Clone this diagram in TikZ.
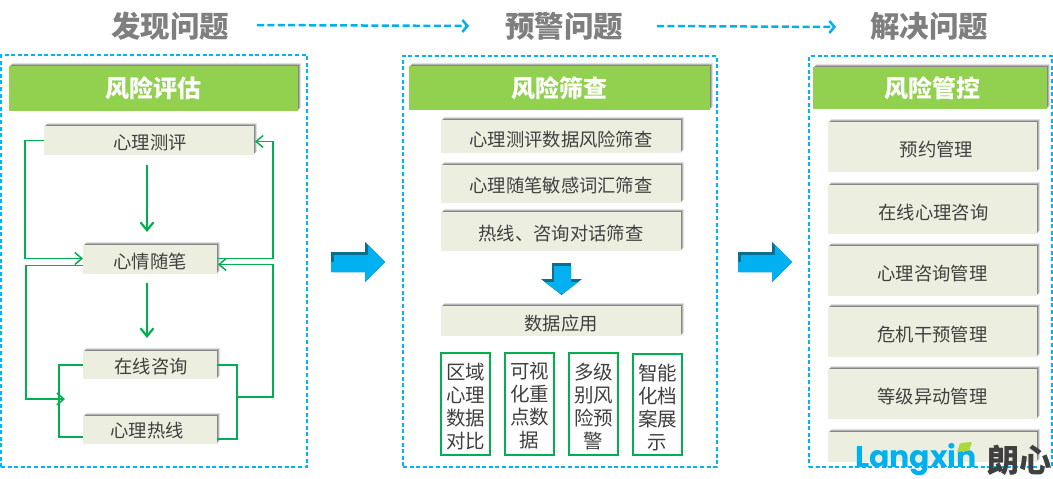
\documentclass[tikz,border=0pt]{standalone}
\usepackage{fontspec}
\setmainfont{Noto Sans CJK SC}
\newfontfamily\logofont{Poppins}
\usetikzlibrary{arrows.meta,shadows}
\definecolor{boxfill}{HTML}{ECEFDF}
\definecolor{headfill}{HTML}{92D050}
\definecolor{linkgreen}{HTML}{00B050}
\definecolor{dashblue}{HTML}{00B4FA}
\definecolor{arrowcyan}{HTML}{00B0F0}
\definecolor{arrowdark}{HTML}{0B6E8E}
\definecolor{titlegray}{HTML}{7F7F7F}
\definecolor{bodytext}{HTML}{404040}
\newcommand{\fsz}[1]{\fontsize{#1}{#1}\selectfont}
\newcommand{\lowered}[2]{\raisebox{-#1pt}[\height][\depth]{#2}}
\newcommand{\rectnode}[7]{%
  \node[#6,minimum width={#4-#2},minimum height={#5-#3}] (#1) at ({(#2+#4)/2},{(#3+#5)/2}) {#7};}
\tikzset{
  softshadow/.style={
    drop shadow={shadow xshift=3.2pt,shadow yshift=3.2pt,fill=black,opacity=.12},
    drop shadow={shadow xshift=2.2pt,shadow yshift=2.2pt,fill=black,opacity=.2},
    drop shadow={shadow xshift=1.2pt,shadow yshift=1.2pt,fill=black,opacity=.25}},
  basebox/.style={inner sep=0pt,outer sep=0pt,align=center},
  panel/.style={basebox,draw=dashblue,line width=1.1pt,dash pattern=on 4pt off 2.6pt},
  header/.style={basebox,fill=headfill,softshadow,text=white,font=\fsz{24}\bfseries},
  item/.style={basebox,fill=boxfill,softshadow,text=bodytext,font=\fsz{18.3}},
  tile/.style={basebox,draw=linkgreen,line width=2.6pt,fill=white,text=bodytext,font=\fontsize{19.5}{23}\selectfont,text width=44pt},
  title/.style={basebox,text=titlegray,font=\fsz{29.5}\bfseries},
  link/.style={draw=linkgreen,line width=1.5pt},
  linktip/.style={link,-{Straight Barb[length=7pt,width=12pt,line width=1.5pt]}},
  downlink/.style={draw=linkgreen,line width=2.2pt,-{Straight Barb[length=8pt,width=13pt,line width=2.2pt]}},
  dashlink/.style={draw=arrowcyan,line width=2.5pt,dash pattern=on 7pt off 3.4pt,-{Straight Barb[length=5pt,width=12pt,line width=2.5pt]}},
}
\newcommand{\rightblock}[2]{%
  \begin{scope}[shift={(#1,#2)}]
    \fill[arrowdark] (0,10)--(34,10)--(34,0)--(54,20)--(34,40)--(34,30)--(0,30)--cycle;
    \begin{scope}
      \clip (0,10)--(34,10)--(34,0)--(54,20)--(34,40)--(34,30)--(0,30)--cycle;
      \fill[arrowcyan,shift={(3,3)}] (0,10)--(34,10)--(34,0)--(54,20)--(34,40)--(34,30)--(0,30)--cycle;
      \fill[arrowcyan] (0,20) rectangle (54,40);
    \end{scope}
  \end{scope}}
\begin{document}
\begin{tikzpicture}[x=1pt,y=-1pt]
\useasboundingbox (0,0) rectangle (1053,479);
\fill[white] (0,0) rectangle (1053,479);
% titles
\node[title] (t1) at (170,26) {发现问题};
\node[title] (t2) at (564,26) {预警问题};
\node[title] (t3) at (929,26) {解决问题};
\coordinate (d1a) at (257,25);\coordinate (d1b) at (469,26);
\coordinate (d2a) at (657,26);\coordinate (d2b) at (836,27);
\draw[dashlink] (d1a)--(d1b);
\draw[dashlink] (d2a)--(d2b);
% panels
\rectnode{p1}{1}{55}{307}{467}{panel}{}
\rectnode{p2}{403}{56}{717}{467}{panel}{}
\rectnode{p3}{809}{56}{1052}{467}{panel}{}
% left column
\rectnode{h1}{9}{66}{298}{111}{header}{风险评估}
\rectnode{a1}{44}{126}{254}{155}{item}{\lowered{2}{\hspace*{2pt}心理测评}}
\rectnode{a2}{83}{245}{217}{274}{item}{\lowered{2}{心情随笔}}
\rectnode{a3}{83}{351}{217}{379}{item}{\lowered{2}{\hspace*{2pt}在线咨询}}
\rectnode{a4}{83}{416}{217}{444}{item}{\lowered{1}{\hspace*{-6pt}心理热线}}
\coordinate (j1) at (237,397);
\coordinate (j2) at (65,399);
\draw[linktip] (a1.west) -- ++(-19,0) |- ([yshift=1pt]a2.west);
\draw[linktip] ([yshift=1pt]a2.east) -- ++(56,0) |- ([xshift=1pt,yshift=-1pt]a1.east);
\draw[linktip] (j1) -- (273,397) |- ([xshift=1pt,yshift=-5pt]a2.east);
\draw[linktip] ([yshift=-6pt]a2.west) -- ++(-57,0) |- (j2);
\draw[link] (a3.east) -- ++(20,0) |- ([yshift=-9pt]a4.east);
\draw[link] (a3.west) -- ++(-24,0) |- ([yshift=-7pt]a4.west);
\draw[downlink] ([yshift=-10pt]a1.south -| 147,0) -- ([yshift=13pt]a2.north -| 147,0);
\draw[downlink] ([yshift=-9pt]a2.south -| 147,0) -- ([yshift=13pt]a3.north -| 147,0);
% block arrows
\rightblock{331}{242}
\rightblock{738}{242}
% middle column
\rectnode{h2}{409}{66}{710}{110}{header}{风险筛查}
\rectnode{b1}{441}{120}{681}{153}{item}{\lowered{3}{心理测评数据风险筛查}}
\rectnode{b2}{441}{165}{681}{203}{item}{\lowered{2}{心理随笔敏感词汇筛查}}
\rectnode{b3}{441}{212}{681}{251}{item}{\lowered{2}{热线、咨询对话筛查}}
\rectnode{b4}{441}{306}{681}{336}{item}{\lowered{3}{数据应用}}
\fill[arrowdark] (552,263)--(571,263)--(571,279)--(582,279)--(561.5,295)--(541,279)--(552,279)--cycle;
\begin{scope}
  \clip (552,263)--(571,263)--(571,279)--(582,279)--(561.5,295)--(541,279)--(552,279)--cycle;
  \fill[arrowcyan,shift={(2,3)}] (552,263)--(569,263)--(569,279)--(582,279)--(559.5,291)--(541,279)--(552,279)--cycle;
\end{scope}
\rectnode{c1}{441}{353}{490}{455}{tile}{\lowered{3}{区域}\\\lowered{3}{心理}\\\lowered{3}{数据}\\\lowered{3}{对比}}
\rectnode{c2}{505}{353}{554}{455}{tile}{\lowered{2}{可视}\\\lowered{2}{化重}\\\lowered{2}{点数}\\\lowered{2}{据}}
\rectnode{c3}{569}{353}{618}{455}{tile}{\lowered{3}{多级}\\\lowered{3}{别风}\\\lowered{3}{险预}\\\lowered{3}{警}}
\rectnode{c4}{633}{354}{682}{455}{tile}{\lowered{3}{智能}\\\lowered{3}{化档}\\\lowered{3}{案展}\\\lowered{3}{示}}
% right column
\rectnode{h3}{813}{67}{1047}{109}{header}{\hspace*{5pt}风险管控}
\rectnode{r1}{828}{122}{1037}{172}{item}{\lowered{3}{\hspace*{8pt}预约管理}}
\rectnode{r2}{828}{185}{1037}{234}{item}{\lowered{3}{\hspace*{2pt}在线心理咨询}}
\rectnode{r3}{828}{246}{1037}{296}{item}{\lowered{3}{心理咨询管理}}
\rectnode{r4}{828}{307}{1037}{357}{item}{\lowered{3}{危机干预管理}}
\rectnode{r5}{828}{369}{1037}{419}{item}{\lowered{3}{等级异动管理}}
\rectnode{r6}{828}{432}{1037}{462}{item}{}
% logo
\node[basebox,anchor=west,text=arrowcyan,font=\logofont\bfseries\fsz{30}] (logo) at (855,460) {Langxin};
\node[basebox,anchor=west,text=bodytext,font=\fsz{32}\bfseries] (logocn) at (987,460) {朗心};
\fill[headfill!80!yellow,rounded corners=1pt] (957,452)--(960,443)--(972,442)--(969,451)--cycle;
\end{tikzpicture}
\end{document}
